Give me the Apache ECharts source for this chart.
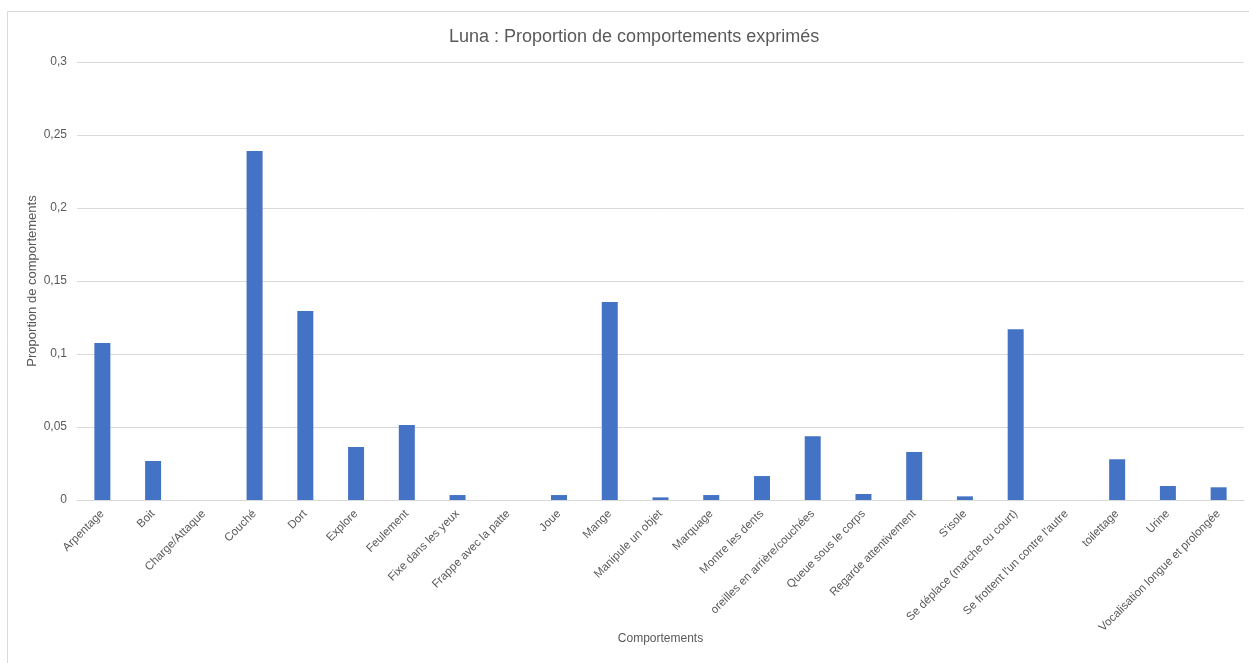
<!DOCTYPE html>
<html>
<head>
<meta charset="utf-8">
<script src="https://cdn.jsdelivr.net/npm/echarts@6/dist/echarts.min.js"></script>
<style>
	html, body { margin: 0; padding: 0; background: #fff; }
	#chart { width: 1249px; height: 663px; }
</style>
</head>
<body>
<div id="chart"></div>
<script>
	// 行为类别
	const categories = [
		'Arpentage', 'Boit', 'Charge/Attaque', 'Couché', 'Dort', 'Explore', 'Feulement',
		'Fixe dans les yeux', 'Frappe avec la patte', 'Joue', 'Mange', 'Manipule un objet',
		'Marquage', 'Montre les dents', 'oreilles en arrière/couchées', 'Queue sous le corps',
		'Regarde attentivement', "S'isole", 'Se déplace (marche ou court)',
		"Se frottent l'un contre l'autre", 'toilettage', 'Urine', 'Vocalisation longue et prolongée'
	]
	// 比例
	const proportions = [
		0.1075, 0.0267, 0, 0.239, 0.1295, 0.0363, 0.0514,
		0.0034, 0, 0.0034, 0.1356, 0.0018,
		0.0034, 0.0164, 0.0436, 0.0041,
		0.0329, 0.0025, 0.117,
		0, 0.0279, 0.0096, 0.0087
	]
	const yTicks = [0, 0.05, 0.1, 0.15, 0.2, 0.25, 0.3]

	const font = 'Liberation Sans, Arial, sans-serif'
	const myChart = echarts.init(document.getElementById('chart'))

	const option = {
		animation: false,
		backgroundColor: '#fff',
		textStyle: { fontFamily: font },
		graphic: [{
			type: 'rect',
			shape: { x: 7.5, y: 11.5, width: 1260, height: 680 },
			style: { fill: 'none', stroke: '#d9d9d9', lineWidth: 1 },
			silent: true
		}],
		title: {
			text: 'Luna : Proportion de comportements exprimés',
			left: 444,
			top: 23,
			textStyle: { fontFamily: font, fontSize: 18, fontWeight: 'normal', color: '#595959' }
		},
		grid: { left: 77, right: 5, top: 62, bottom: 163 },
		xAxis: {
			type: 'category',
			data: categories,
			name: 'Comportements',
			nameLocation: 'middle',
			nameMoveOverlap: false,
			nameGap: 133,
			nameTextStyle: { fontFamily: font, fontSize: 12, color: '#595959' },
			axisLine: { lineStyle: { color: '#d9d9d9', width: 1 } },
			axisTick: { show: false },
			axisLabel: {
				interval: 0,
				rotate: 45,
				margin: 12,
				fontFamily: font,
				fontSize: 11.5,
				color: '#595959'
			}
		},
		yAxis: {
			type: 'value',
			min: yTicks[0],
			max: yTicks[yTicks.length - 1],
			interval: 0.05,
			name: 'Proportion de comportements',
			nameLocation: 'middle',
			nameMoveOverlap: false,
			nameGap: 38,
			nameTextStyle: { fontFamily: font, fontSize: 13, color: '#595959' },
			axisLine: { show: false },
			axisTick: { show: false },
			splitLine: { lineStyle: { color: '#d9d9d9', width: 1 } },
			axisLabel: {
				margin: 10,
				fontFamily: font,
				fontSize: 12,
				color: '#595959',
				formatter: v => String(+v.toFixed(2)).replace('.', ',')
			}
		},
		series: [{
			type: 'bar',
			data: proportions,
			barWidth: 16,
			itemStyle: { color: '#4472c4' }
		}]
	}

	myChart.setOption(option)
</script>
</body>
</html>
